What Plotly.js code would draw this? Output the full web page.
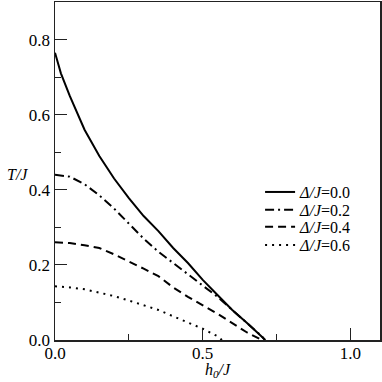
<!DOCTYPE html>
<html>
<head>
<meta charset="utf-8">
<script src="https://cdn.plot.ly/plotly-3.0.1.min.js"></script>
<style>html,body{margin:0;padding:0;background:#fff;}#plot{width:382px;height:382px;}</style>
</head>
<body>
<div id="plot"></div>
<script>
const h00 = [0, 0.02, 0.05, 0.1, 0.15, 0.2, 0.25, 0.3, 0.35, 0.4, 0.45, 0.5, 0.55, 0.6, 0.65, 0.7, 0.712];
const T00 = [0.765, 0.71, 0.65, 0.56, 0.49, 0.43, 0.378, 0.33, 0.29, 0.245, 0.205, 0.16, 0.12, 0.08, 0.045, 0.01, 0];
const h02 = [0, 0.05, 0.1, 0.15, 0.2, 0.25, 0.3, 0.35, 0.4, 0.45, 0.5, 0.55, 0.6, 0.65, 0.7, 0.71];
const T02 = [0.44, 0.435, 0.415, 0.385, 0.35, 0.31, 0.27, 0.235, 0.205, 0.175, 0.145, 0.115, 0.08, 0.045, 0.01, 0];
const h04 = [0, 0.05, 0.1, 0.15, 0.2, 0.25, 0.3, 0.35, 0.4, 0.45, 0.5, 0.55, 0.6, 0.65, 0.7];
const T04 = [0.26, 0.258, 0.252, 0.245, 0.228, 0.21, 0.19, 0.17, 0.14, 0.115, 0.093, 0.07, 0.045, 0.02, 0];
const h06 = [0, 0.05, 0.1, 0.15, 0.2, 0.25, 0.3, 0.35, 0.4, 0.45, 0.5, 0.55, 0.565];
const T06 = [0.143, 0.14, 0.135, 0.127, 0.117, 0.105, 0.093, 0.08, 0.063, 0.047, 0.03, 0.01, 0];
const names = ['<i>Δ/J</i>=0.0', '<i>Δ/J</i>=0.2', '<i>Δ/J</i>=0.4', '<i>Δ/J</i>=0.6'];
const xTicks = [0, 0.5, 1.0];
const xMinor = [0.25, 0.75];
const yTicks = [0, 0.2, 0.4, 0.6, 0.8];
const yMinor = [0.1, 0.3, 0.5, 0.7];

const font = 'Liberation Serif, Times New Roman, serif';
const ink = '#000';
const traces = [
  {x: h00, y: T00, name: names[0], legend: 'legend', mode: 'lines', line: {color: ink, width: 2, dash: 'solid'}},
  {x: h02, y: T02, name: names[1], legend: 'legend2', mode: 'lines', line: {color: ink, width: 2, dash: '9px,4px,2px,4px'}},
  {x: h04, y: T04, name: names[2], legend: 'legend3', mode: 'lines', line: {color: ink, width: 2, dash: '8px,5px'}},
  {x: h06, y: T06, name: names[3], legend: 'legend4', mode: 'lines', line: {color: ink, width: 2, dash: '2px,5px'}}
];
const tickStyle = {ticks: 'inside', ticklen: 12, tickwidth: 1.2, tickcolor: '#222', showgrid: false, zeroline: false};
const minorStyle = {ticks: 'inside', ticklen: 6, tickwidth: 1.2, tickcolor: '#222', showgrid: false};
const tickFont = {family: font, size: 17, color: ink};
const legFont = {family: font, size: 16, color: ink};
function leg(y) {
  return {x: 0.631, y: y, xanchor: 'left', yanchor: 'top', bgcolor: 'rgba(0,0,0,0)', font: legFont};
}
const layout = {
  width: 382, height: 382,
  margin: {l: 55, r: 2, t: 2, b: 42},
  paper_bgcolor: '#fff', plot_bgcolor: '#fff',
  font: {family: font, color: ink},
  xaxis: Object.assign({}, tickStyle, {range: [0, 1.1], tickvals: xTicks, tickformat: '.1f',
    showline: true, linecolor: '#222', linewidth: 1.5, mirror: true,
    tickfont: tickFont, ticklabelstandoff: -3,
    minor: Object.assign({}, minorStyle, {tickvals: xMinor})}),
  yaxis: Object.assign({}, tickStyle, {range: [0, 0.9], tickvals: yTicks, tickformat: '.1f',
    showline: true, linecolor: '#222', linewidth: 1.5, mirror: true,
    tickfont: tickFont,
    minor: Object.assign({}, minorStyle, {tickvals: yMinor})}),
  xaxis2: Object.assign({}, tickStyle, {range: [0, 1.1], tickvals: xTicks, overlaying: 'x', side: 'top', anchor: 'y',
    showline: false, showticklabels: false,
    minor: Object.assign({}, minorStyle, {tickvals: xMinor})}),
  yaxis2: Object.assign({}, tickStyle, {range: [0, 0.9], tickvals: yTicks, overlaying: 'y', side: 'right', anchor: 'x',
    showline: false, showticklabels: false,
    minor: Object.assign({}, minorStyle, {tickvals: yMinor})}),
  legend: leg(0.488),
  legend2: leg(0.435),
  legend3: leg(0.385),
  legend4: leg(0.331),
  showlegend: true,
  annotations: [
    {text: '<i>T/J</i>', xref: 'paper', yref: 'paper', x: -0.115, y: 0.49, xanchor: 'center', yanchor: 'middle',
     showarrow: false, font: {family: font, size: 16, color: ink}},
    {text: '<i>h<sub>0</sub>/J</i>', xref: 'paper', yref: 'paper', x: 0.5, y: -0.09, xanchor: 'center', yanchor: 'middle',
     showarrow: false, font: {family: font, size: 16, color: ink}}
  ]
};
Plotly.newPlot('plot', traces, layout, {staticPlot: true});
</script>
</body>
</html>
